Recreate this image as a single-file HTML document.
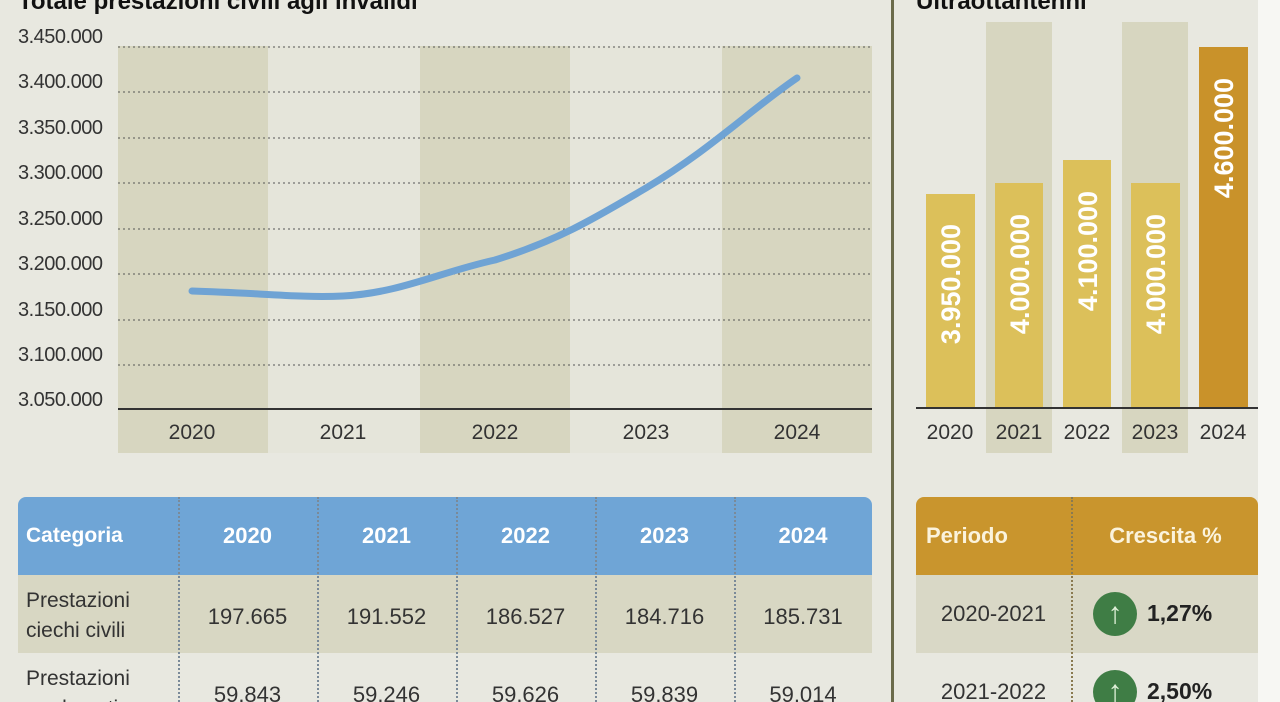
<!DOCTYPE html>
<html><head><meta charset="utf-8"><style>
html,body{margin:0;padding:0;width:1280px;height:702px;overflow:hidden;}
body{background:#e8e8e0;position:relative;font-family:"Liberation Sans",sans-serif;}
.a{position:absolute;}
.yl{position:absolute;left:18px;font-size:20px;color:#333;letter-spacing:-0.5px;}
.yr{position:absolute;font-size:21px;color:#333;transform:translateX(-50%);}
.cell{position:absolute;display:flex;align-items:center;justify-content:center;}
.hd{color:#fff;font-weight:bold;font-size:22px;}
.num{font-size:22px;color:#333;}
.vs{position:absolute;border-left:2px dotted #7a8a99;}
</style></head><body>
<div class="a" style="left:1258px;top:0;width:22px;height:702px;background:#f7f7f3"></div>
<div class="a" style="left:18px;top:-12px;font-size:24px;font-weight:bold;color:#111">Totale prestazioni civili agli invalidi</div>
<div class="a" style="left:916px;top:-12px;font-size:24px;font-weight:bold;color:#111">Ultraottantenni</div>
<div class="a" style="left:891px;top:0;width:3px;height:702px;background:#6b6b4a"></div>
<div class="a" style="left:118px;top:46px;width:150px;height:407px;background:#d7d6c0"></div>
<div class="a" style="left:268px;top:46px;width:152px;height:407px;background:#e5e5da"></div>
<div class="a" style="left:420px;top:46px;width:150px;height:407px;background:#d7d6c0"></div>
<div class="a" style="left:570px;top:46px;width:152px;height:407px;background:#e5e5da"></div>
<div class="a" style="left:722px;top:46px;width:150px;height:407px;background:#d7d6c0"></div>
<svg class="a" style="left:0;top:0" width="880" height="460">
<g stroke="#555" stroke-width="1" stroke-dasharray="2,3">
<line x1="118" x2="872" y1="47" y2="47"/><line x1="118" x2="872" y1="92" y2="92"/><line x1="118" x2="872" y1="138" y2="138"/><line x1="118" x2="872" y1="183" y2="183"/><line x1="118" x2="872" y1="229" y2="229"/><line x1="118" x2="872" y1="274" y2="274"/><line x1="118" x2="872" y1="320" y2="320"/><line x1="118" x2="872" y1="365" y2="365"/>
</g>
<line x1="118" x2="872" y1="409" y2="409" stroke="#333" stroke-width="2"/>
<path d="M192,291 C260,293 300,298 343,296 C400,293 440,272 495,260 C560,240 600,215 646,188 C710,150 750,110 797,78" fill="none" stroke="#6fa3d4" stroke-width="7" stroke-linecap="round"/>
</svg>
<div class="yl" style="top:26px">3.450.000</div>
<div class="yl" style="top:71px">3.400.000</div>
<div class="yl" style="top:117px">3.350.000</div>
<div class="yl" style="top:162px">3.300.000</div>
<div class="yl" style="top:208px">3.250.000</div>
<div class="yl" style="top:253px">3.200.000</div>
<div class="yl" style="top:299px">3.150.000</div>
<div class="yl" style="top:344px">3.100.000</div>
<div class="yl" style="top:389px">3.050.000</div>
<div class="yr" style="left:192px;top:421px">2020</div>
<div class="yr" style="left:343px;top:421px">2021</div>
<div class="yr" style="left:495px;top:421px">2022</div>
<div class="yr" style="left:646px;top:421px">2023</div>
<div class="yr" style="left:797px;top:421px">2024</div>
<div class="a" style="left:986px;top:22px;width:66px;height:431px;background:#d7d6c0"></div>
<div class="a" style="left:1122px;top:22px;width:66px;height:431px;background:#d7d6c0"></div>
<div class="a" style="left:926px;top:194px;width:49px;height:214px;background:#dcc05a"></div>
<div class="a" style="left:995px;top:183px;width:48px;height:225px;background:#dcc05a"></div>
<div class="a" style="left:1063px;top:160px;width:48px;height:248px;background:#dcc05a"></div>
<div class="a" style="left:1131px;top:183px;width:49px;height:225px;background:#dcc05a"></div>
<div class="a" style="left:1199px;top:47px;width:49px;height:361px;background:#c9922a"></div>
<div class="a" style="left:916px;top:407px;width:342px;height:2px;background:#333"></div>
<svg class="a" style="left:900px;top:0" width="380" height="420">
<g fill="#fff" font-family="Liberation Sans, sans-serif" font-weight="bold" font-size="27" text-anchor="middle">
<text transform="translate(60,284) rotate(-90)">3.950.000</text>
<text transform="translate(129,274) rotate(-90)">4.000.000</text>
<text transform="translate(197,251) rotate(-90)">4.100.000</text>
<text transform="translate(265,274) rotate(-90)">4.000.000</text>
<text transform="translate(333,138) rotate(-90)">4.600.000</text>
</g></svg>
<div class="yr" style="left:950px;top:421px">2020</div>
<div class="yr" style="left:1019px;top:421px">2021</div>
<div class="yr" style="left:1087px;top:421px">2022</div>
<div class="yr" style="left:1155px;top:421px">2023</div>
<div class="yr" style="left:1223px;top:421px">2024</div>
<div class="a" style="left:18px;top:497px;width:854px;height:78px;background:#6fa5d6;border-radius:8px 8px 0 0"></div>
<div class="a" style="left:18px;top:575px;width:854px;height:78px;background:#d8d7c3"></div>
<div class="vs" style="left:178px;top:497px;height:205px"></div>
<div class="vs" style="left:317px;top:497px;height:205px"></div>
<div class="vs" style="left:456px;top:497px;height:205px"></div>
<div class="vs" style="left:595px;top:497px;height:205px"></div>
<div class="vs" style="left:734px;top:497px;height:205px"></div>
<div class="cell hd" style="left:26px;top:497px;height:78px;font-size:21px">Categoria</div>
<div class="cell hd" style="left:178px;top:497px;width:139px;height:78px">2020</div>
<div class="cell hd" style="left:317px;top:497px;width:139px;height:78px">2021</div>
<div class="cell hd" style="left:456px;top:497px;width:139px;height:78px">2022</div>
<div class="cell hd" style="left:595px;top:497px;width:139px;height:78px">2023</div>
<div class="cell hd" style="left:734px;top:497px;width:138px;height:78px">2024</div>
<div class="a num" style="left:26px;top:586px;line-height:30px;font-size:21px">Prestazioni<br>ciechi civili</div>
<div class="cell num" style="left:178px;top:578px;width:139px;height:78px">197.665</div>
<div class="cell num" style="left:317px;top:578px;width:139px;height:78px">191.552</div>
<div class="cell num" style="left:456px;top:578px;width:139px;height:78px">186.527</div>
<div class="cell num" style="left:595px;top:578px;width:139px;height:78px">184.716</div>
<div class="cell num" style="left:734px;top:578px;width:138px;height:78px">185.731</div>
<div class="a num" style="left:26px;top:664px;line-height:30px;font-size:21px">Prestazioni<br>sordomuti</div>
<div class="cell num" style="left:178px;top:656px;width:139px;height:78px">59.843</div>
<div class="cell num" style="left:317px;top:656px;width:139px;height:78px">59.246</div>
<div class="cell num" style="left:456px;top:656px;width:139px;height:78px">59.626</div>
<div class="cell num" style="left:595px;top:656px;width:139px;height:78px">59.839</div>
<div class="cell num" style="left:734px;top:656px;width:138px;height:78px">59.014</div>
<div class="a" style="left:916px;top:497px;width:342px;height:78px;background:#c9952d;border-radius:8px 8px 0 0"></div>
<div class="a" style="left:916px;top:575px;width:342px;height:78px;background:#d9d8c6"></div>
<div class="vs" style="left:1071px;top:497px;height:205px;border-color:#8a7a50"></div>
<div class="cell hd" style="left:926px;top:497px;height:78px;color:#fbf3dc">Periodo</div>
<div class="cell hd" style="left:1073px;top:497px;width:185px;height:78px;color:#fbf3dc">Crescita %</div>
<div class="cell num" style="left:916px;top:575px;width:155px;height:78px;font-size:22px">2020-2021</div>
<div class="cell num" style="left:916px;top:653px;width:155px;height:78px;font-size:22px">2021-2022</div>
<div class="a" style="left:1093px;top:592px;width:44px;height:44px;border-radius:50%;background:#3f7d45;color:#dff0d8;font-size:30px;font-weight:bold;text-align:center;line-height:44px">↑</div>
<div class="a" style="left:1147px;top:600px;font-size:23px;font-weight:bold;color:#222">1,27%</div>
<div class="a" style="left:1093px;top:670px;width:44px;height:44px;border-radius:50%;background:#3f7d45;color:#dff0d8;font-size:30px;font-weight:bold;text-align:center;line-height:44px">↑</div>
<div class="a" style="left:1147px;top:678px;font-size:23px;font-weight:bold;color:#222">2,50%</div>
</body></html>
